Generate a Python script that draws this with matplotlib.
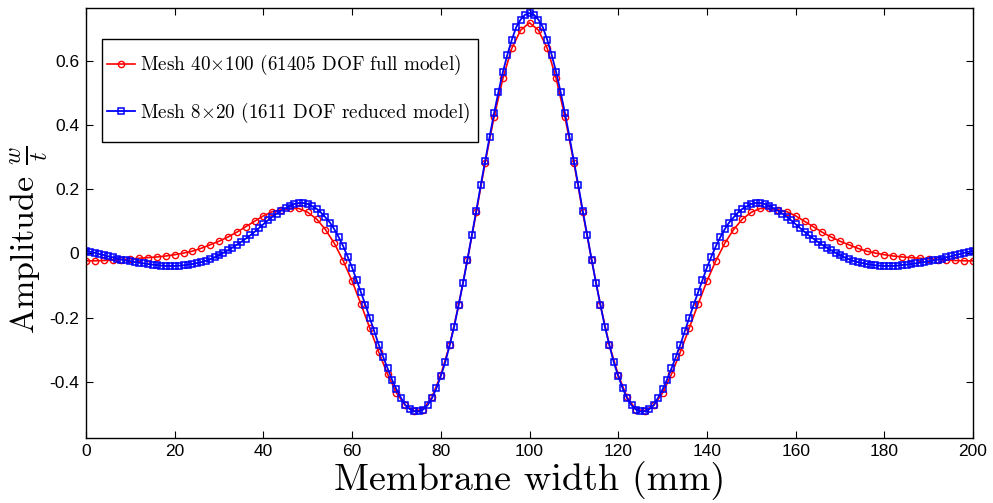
import numpy as np
import matplotlib
matplotlib.use("Agg")
import matplotlib.pyplot as plt
from matplotlib.patches import Rectangle
from matplotlib.ticker import FuncFormatter

# full model (every 2 mm)
x_full = np.arange(0, 201, 2)
amp_full = [
    -0.023, -0.023, -0.022, -0.021, -0.019, -0.017, -0.015, -0.013, -0.011, -0.008,
    -0.004, 0.001, 0.007, 0.016, 0.027, 0.038, 0.051, 0.066, 0.083, 0.100,
    0.117, 0.130, 0.136, 0.140, 0.140, 0.128, 0.107, 0.074, 0.031, -0.023,
    -0.086, -0.158, -0.233, -0.307, -0.376, -0.434, -0.473, -0.490, -0.486, -0.448,
    -0.378, -0.285, -0.162, -0.020, 0.128, 0.283, 0.424, 0.545, 0.638, 0.695,
    0.718,
    0.695, 0.638, 0.545, 0.424, 0.283, 0.128, -0.020, -0.162, -0.285, -0.378,
    -0.448, -0.486, -0.490, -0.473, -0.434, -0.376, -0.307, -0.233, -0.158, -0.086,
    -0.023, 0.031, 0.074, 0.107, 0.128, 0.140, 0.140, 0.136, 0.130, 0.117,
    0.100, 0.083, 0.066, 0.051, 0.038, 0.027, 0.016, 0.007, 0.001, -0.004,
    -0.008, -0.011, -0.013, -0.015, -0.017, -0.019, -0.021, -0.022, -0.023, -0.023,
]

# reduced model (every 1 mm)
x_red = np.arange(0, 201, 1)
amp_red = [
    0.008, 0.005, 0.002, -0.002, -0.005, -0.009, -0.012, -0.016, -0.019, -0.022,
    -0.024, -0.027, -0.029, -0.031, -0.033, -0.035, -0.036, -0.038, -0.039, -0.039,
    -0.039, -0.038, -0.037, -0.035, -0.033, -0.030, -0.027, -0.023, -0.018, -0.012,
    -0.005, 0.002, 0.010, 0.018, 0.027, 0.036, 0.046, 0.056, 0.067, 0.079,
    0.091, 0.103, 0.114, 0.124, 0.133, 0.141, 0.148, 0.154, 0.157, 0.157,
    0.154, 0.147, 0.139, 0.127, 0.112, 0.096, 0.075, 0.050, 0.022, -0.010,
    -0.044, -0.082, -0.121, -0.160, -0.201, -0.242, -0.284, -0.322, -0.358, -0.393,
    -0.423, -0.449, -0.472, -0.485, -0.491, -0.492, -0.486, -0.473, -0.451, -0.420,
    -0.382, -0.339, -0.285, -0.229, -0.161, -0.093, -0.019, 0.057, 0.133, 0.212,
    0.288, 0.363, 0.436, 0.503, 0.565, 0.618, 0.665, 0.704, 0.728, 0.743,
    0.748,
    0.743, 0.728, 0.704, 0.665, 0.618, 0.565, 0.503, 0.436, 0.363, 0.288,
    0.212, 0.133, 0.057, -0.019, -0.093, -0.161, -0.229, -0.285, -0.339, -0.382,
    -0.420, -0.451, -0.473, -0.486, -0.492, -0.491, -0.485, -0.472, -0.449, -0.423,
    -0.393, -0.358, -0.322, -0.284, -0.242, -0.201, -0.160, -0.121, -0.082, -0.044,
    -0.010, 0.022, 0.050, 0.075, 0.096, 0.112, 0.127, 0.139, 0.147, 0.154,
    0.157, 0.157, 0.154, 0.148, 0.141, 0.133, 0.124, 0.114, 0.103, 0.091,
    0.079, 0.067, 0.056, 0.046, 0.036, 0.027, 0.018, 0.010, 0.002, -0.005,
    -0.012, -0.018, -0.023, -0.027, -0.030, -0.033, -0.035, -0.037, -0.038, -0.039,
    -0.039, -0.039, -0.038, -0.036, -0.035, -0.033, -0.031, -0.029, -0.027, -0.024,
    -0.022, -0.019, -0.016, -0.012, -0.009, -0.005, -0.002, 0.002, 0.005, 0.008,
]

labels = [r"Mesh 40$\times$100 (61405 DOF full model)",
          r"Mesh 8$\times$20 (1611 DOF reduced model)"]
x_ticks = np.arange(0, 201, 20)
y_ticks = [-0.4, -0.2, 0, 0.2, 0.4, 0.6]

plt.rcParams["mathtext.fontset"] = "cm"
plt.rcParams["axes.unicode_minus"] = False

fig = plt.figure(figsize=(9.93, 5.03), dpi=100)
ax = fig.add_axes([0.0866, 0.1302, 0.8933, 0.8533])

ax.plot(x_full, amp_full, color="red", linewidth=1.2, marker="o", markersize=4.5,
        markerfacecolor="none", markeredgewidth=1.0, label=labels[0])
ax.plot(x_red, amp_red, color="blue", linewidth=1.3, marker="s", markersize=4,
        markerfacecolor="none", markeredgewidth=1.1, label=labels[1])

ax.set_xlim(0, 200)
ax.set_ylim(-0.573, 0.763)
ax.set_xticks(x_ticks)
ax.set_yticks(y_ticks)
ax.yaxis.set_major_formatter(FuncFormatter(lambda v, p: "%g" % v))
ax.tick_params(direction="in", top=True, right=True, length=5, width=0.8,
               labelsize=12.5, pad=5)
for lbl in ax.get_xticklabels() + ax.get_yticklabels():
    lbl.set_fontfamily("Liberation Sans")
for s in ax.spines.values():
    s.set_linewidth(1.0)

ax.set_xlabel("Membrane width (mm)", fontfamily="cmr10", fontsize=27.5, labelpad=1)
ax.set_ylabel(r"Amplitude $\frac{w}{t}$", fontfamily="cmr10", fontsize=24.5)
ax.yaxis.set_label_coords(-0.041, 0.46)

# legend box drawn by hand so the inner padding matches
ax.add_patch(Rectangle((0.0177, 0.6892), 0.4239, 0.2393, transform=ax.transAxes,
                       facecolor="white", edgecolor="black", linewidth=1.0,
                       zorder=4))
leg = ax.legend(loc="center left", bbox_to_anchor=(0.0237, 0.812),
                borderaxespad=0, borderpad=0, frameon=False,
                prop={"family": "cmr10", "size": 13.8}, labelspacing=1.2,
                handlelength=1.45, handletextpad=0.25)
leg.set_zorder(5)

fig.savefig("out.png", dpi=100)
